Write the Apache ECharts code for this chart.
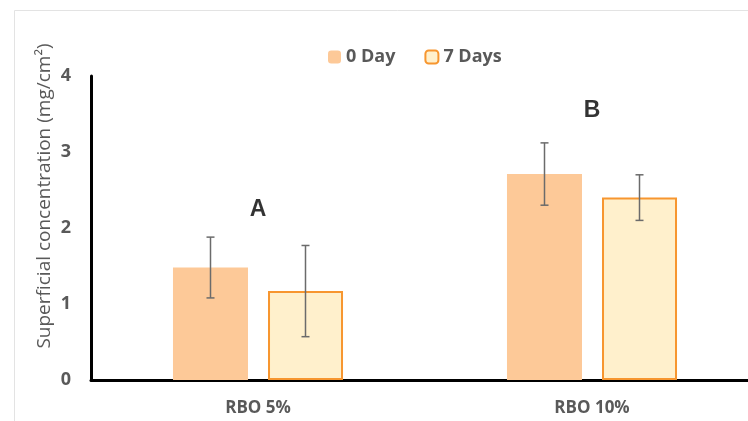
<!DOCTYPE html>
<html>
<head>
<meta charset="utf-8">
<script src="https://cdn.jsdelivr.net/npm/echarts@6/dist/echarts.min.js"></script>
<style>html,body{margin:0;padding:0;background:#fff;overflow:hidden;width:748px;height:421px}#c{width:780px;height:421px}</style>
</head>
<body>
<div id="c"></div>
<script>
var categories = ['RBO 5%', 'RBO 10%'];
var day0 = [1.48, 2.71];
var day7 = [1.17, 2.40];
var err0 = [0.40, 0.41];
var err7 = [0.60, 0.30];
var letters = ['A', 'B'];
var letterY = [2.24, 3.55];
var yTicks = [0, 1, 2, 3, 4];

var chart = echarts.init(document.getElementById('c'));
var grey = '#595959';
var font = '"Open Sans", "Liberation Sans", sans-serif';

function errorSeries(vals, errs, idx) {
  return {
    type: 'custom',
    name: 'err' + idx,
    silent: true,
    z: 10,
    data: vals.map(function (v, i) { return [i, v - errs[i], v + errs[i]]; }),
    renderItem: function (params, api) {
      var ci = api.value(0);
      var lo = api.coord([ci, api.value(1)]);
      var hi = api.coord([ci, api.value(2)]);
      var barW = 75, gap = 20;
      var offset = (idx === 0 ? -1 : 1) * (barW + gap) / 2;
      var x = lo[0] + offset;
      var cap = 4;
      var st = { stroke: '#6b6b6b', lineWidth: 1.5 };
      return {
        type: 'group',
        children: [
          { type: 'line', shape: { x1: x, y1: lo[1], x2: x, y2: hi[1] }, style: st },
          { type: 'line', shape: { x1: x - cap, y1: lo[1], x2: x + cap, y2: lo[1] }, style: st },
          { type: 'line', shape: { x1: x - cap, y1: hi[1], x2: x + cap, y2: hi[1] }, style: st }
        ]
      };
    }
  };
}

chart.setOption({
  animation: false,
  textStyle: { fontFamily: font },
  graphic: [
    { type: 'line', shape: { x1: 14.5, y1: 10.5, x2: 780, y2: 10.5 }, style: { stroke: '#e3e3e3', lineWidth: 1 } },
    { type: 'line', shape: { x1: 14.5, y1: 10.5, x2: 14.5, y2: 421 }, style: { stroke: '#e3e3e3', lineWidth: 1 } },
    { type: 'text', x: 45, y: 196, rotation: Math.PI / 2,
      style: { text: 'Superficial concentration (mg/cm²)', fill: grey, fontSize: 19, fontFamily: font, align: 'center', verticalAlign: 'middle' } }
  ],
  legend: {
    top: 43, left: 323,
    itemWidth: 13, itemHeight: 13, itemGap: 29,
    data: ['0 Day', '7 Days'],
    textStyle: { color: grey, fontSize: 18, fontWeight: 'bold', fontFamily: font }
  },
  grid: { left: 91, top: 76, width: 668, height: 304, containLabel: false },
  xAxis: {
    type: 'category',
    data: categories,
    axisLine: { lineStyle: { color: '#000', width: 3 } },
    axisTick: { show: false },
    axisLabel: { color: grey, fontSize: 17, fontWeight: 'bold', margin: 20, fontFamily: font }
  },
  yAxis: {
    type: 'value', min: 0, max: 4, interval: 1,
    axisLine: { show: true, lineStyle: { color: '#000', width: 3 } },
    axisTick: { show: false },
    splitLine: { show: false },
    axisLabel: { color: grey, fontSize: 18, fontWeight: 'bold', margin: 20, fontFamily: font,
      formatter: function (v) { return yTicks.indexOf(v) >= 0 ? String(v) : ''; } }
  },
  series: [
    { name: '0 Day', type: 'bar', data: day0, barWidth: 75, barGap: '26.7%',
      itemStyle: { color: '#FDC998' } },
    { name: '7 Days', type: 'bar', data: day7, barWidth: 75,
      itemStyle: { color: '#FFF0CC', borderColor: '#F7962F', borderWidth: 2 } },
    errorSeries(day0, err0, 0),
    errorSeries(day7, err7, 1),
    { type: 'scatter', symbolSize: 0, silent: true,
      data: letters.map(function (t, i) { return [i, letterY[i]]; }),
      label: { show: true, position: 'inside', color: '#000', fontSize: 23, fontWeight: 'bold', fontFamily: '"Liberation Sans", sans-serif',
        formatter: function (p) { return letters[p.dataIndex]; } } }
  ]
});
</script>
</body>
</html>
